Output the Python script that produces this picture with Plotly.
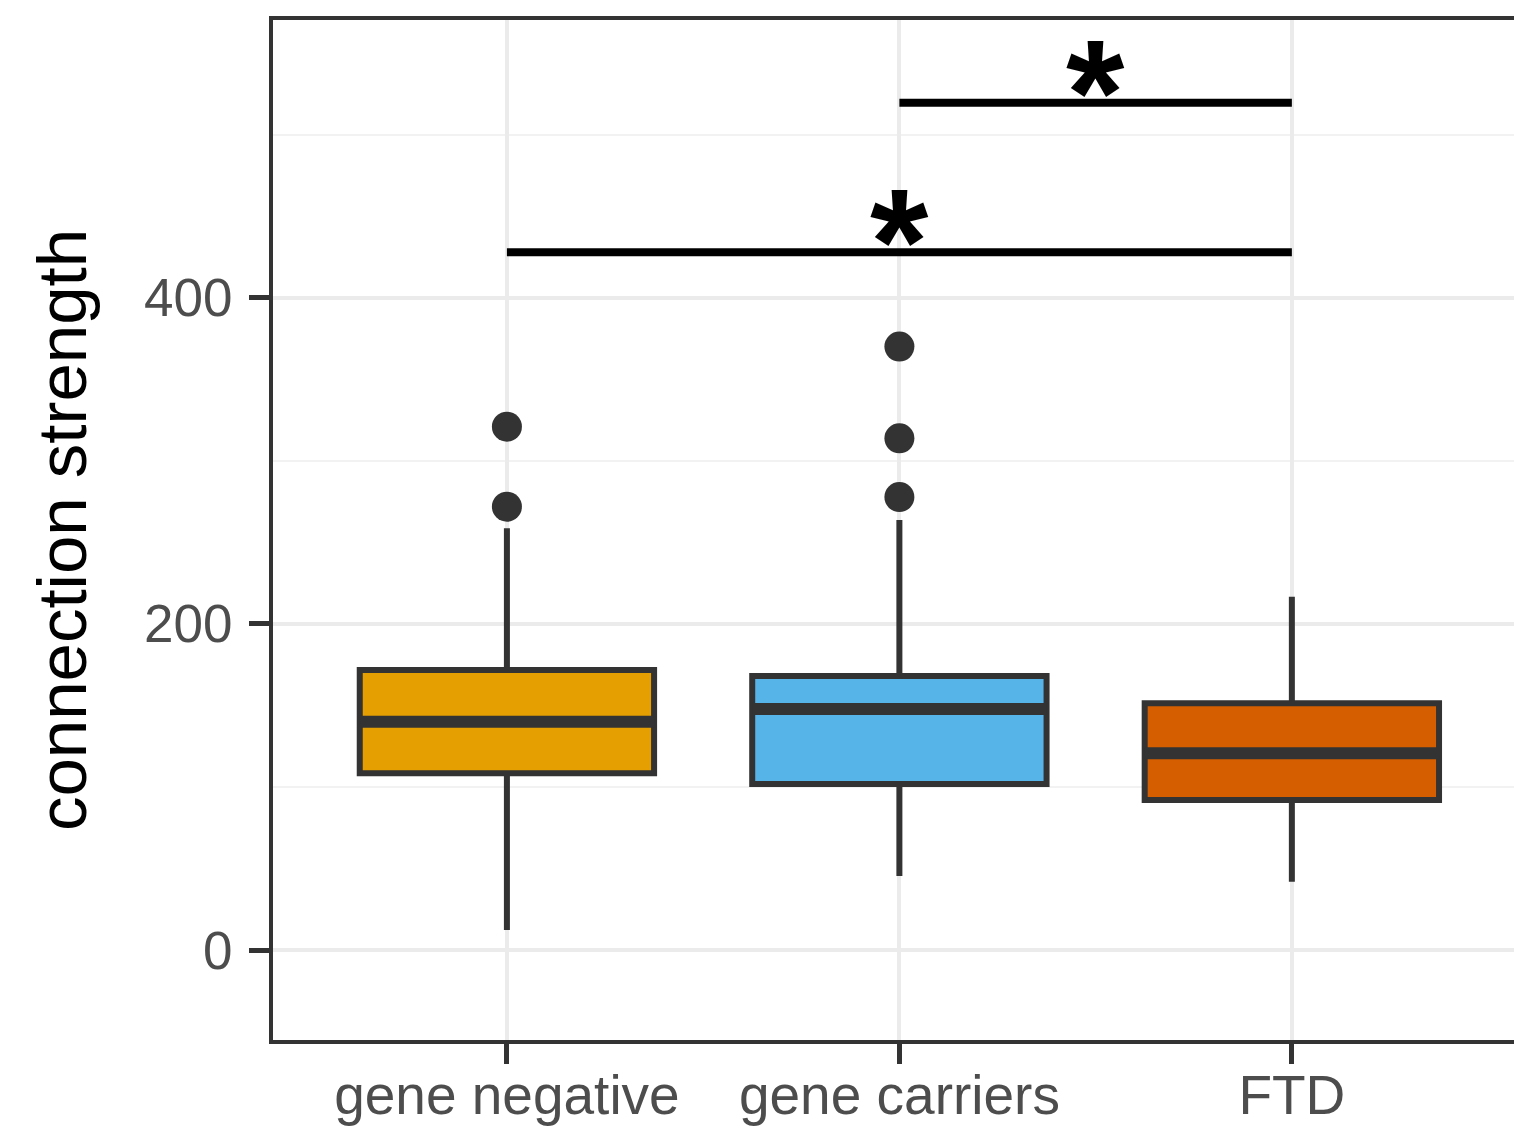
import plotly.graph_objects as go

# Group labels and summary statistics (connection strength)
groups = ["gene negative", "gene carriers", "FTD"]
colors = ["#E69F00", "#56B4E9", "#D55E00"]
q1 = [108.4, 101.8, 92.0]
median = [140.0, 147.8, 120.6]
q3 = [171.7, 168.0, 151.3]
lower_whisker = [12.3, 45.4, 41.9]
upper_whisker = [258.6, 263.7, 216.7]
outliers = [[271.9, 321.0], [277.8, 313.8, 370.1], []]

# Pairwise significance brackets: (group a, group b, height, label)
brackets = [(0, 2, 428.0, "*"), (1, 2, 519.6, "*")]

y_ticks = [0, 200, 400]

FONT = "Liberation Sans, Arial, sans-serif"
DARK = "#333333"
BOX_W = 0.75

fig = go.Figure()

for i, g in enumerate(groups):
    fig.add_trace(go.Box(
        x=[i], q1=[q1[i]], median=[median[i]], q3=[q3[i]],
        lowerfence=[lower_whisker[i]], upperfence=[upper_whisker[i]],
        width=BOX_W, fillcolor=colors[i],
        line=dict(color=DARK, width=6), whiskerwidth=0,
        boxpoints=False, name=g, showlegend=False, hoverinfo="skip",
    ))
    # thicker median bar
    fig.add_trace(go.Scatter(
        x=[i - BOX_W / 2, i + BOX_W / 2], y=[median[i], median[i]],
        mode="lines", line=dict(color=DARK, width=12),
        showlegend=False, hoverinfo="skip",
    ))
    if outliers[i]:
        fig.add_trace(go.Scatter(
            x=[i] * len(outliers[i]), y=outliers[i], mode="markers",
            marker=dict(color=DARK, size=30, line=dict(width=0)),
            showlegend=False, hoverinfo="skip",
        ))

for a, b, h, label in brackets:
    fig.add_trace(go.Scatter(
        x=[a, b], y=[h, h], mode="lines",
        line=dict(color="black", width=8),
        showlegend=False, hoverinfo="skip",
    ))
    fig.add_annotation(
        x=(a + b) / 2, y=h, text="<b>" + label + "</b>", showarrow=False,
        xanchor="center", yanchor="bottom", yshift=-76,
        font=dict(family=FONT, size=150, color="black"),
    )

fig.update_layout(
    width=1514, height=1129,
    margin=dict(l=273, r=0, t=20, b=89),
    paper_bgcolor="white", plot_bgcolor="white",
    boxmode="overlay",
    font=dict(family=FONT),
)

fig.update_xaxes(
    range=[-0.596, 2.566], automargin=False,
    tickmode="array", tickvals=list(range(len(groups))), ticktext=groups,
    tickfont=dict(size=55, color="#4D4D4D", family=FONT),
    ticklabelstandoff=-16,
    ticks="outside", ticklen=20, tickwidth=5, tickcolor=DARK,
    showline=True, linecolor=DARK, linewidth=4, mirror=True,
    showgrid=True, gridcolor="#EBEBEB", gridwidth=4,
    zeroline=False,
)

fig.update_yaxes(
    range=[-55.2, 570.4], automargin=False,
    tickmode="array", tickvals=y_ticks, ticktext=[str(v) for v in y_ticks],
    tickfont=dict(size=53, color="#4D4D4D", family=FONT),
    ticklabelstandoff=6,
    ticks="outside", ticklen=20, tickwidth=5, tickcolor=DARK,
    showline=True, linecolor=DARK, linewidth=4, mirror=False,
    showgrid=True, gridcolor="#EBEBEB", gridwidth=4,
    minor=dict(tickvals=[100, 300, 500], showgrid=True, gridcolor="#F2F2F2", gridwidth=2, ticks=""),
    zeroline=False,
    title=dict(text="connection strength", font=dict(size=69, color="black", family=FONT), standoff=36),
)

fig.write_html("out.html")
